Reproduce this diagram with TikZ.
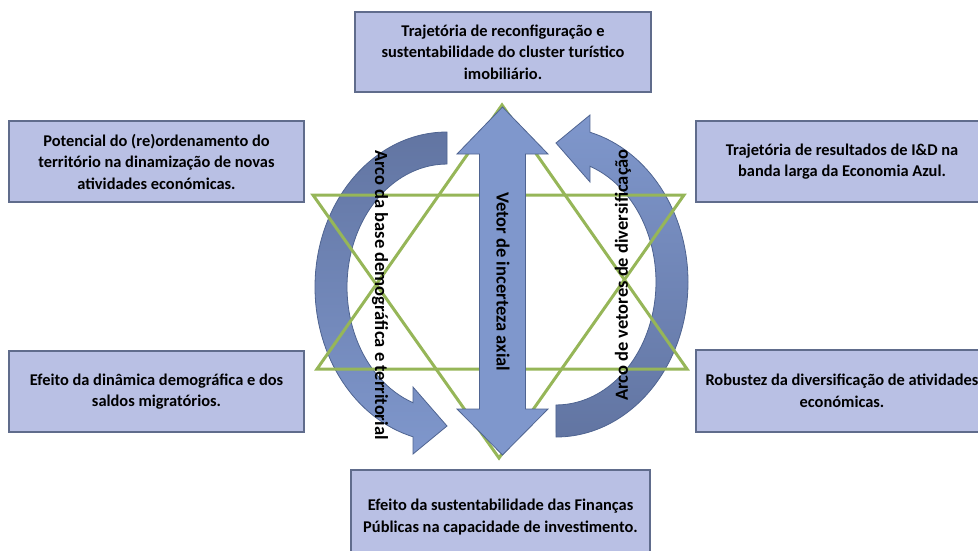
\documentclass[tikz,border=0pt]{standalone}
\usepackage{fontspec}
\setmainfont{Carlito}
\usepackage{tikz}
\definecolor{boxfill}{RGB}{185,192,228}
\definecolor{boxline}{RGB}{96,108,140}
\definecolor{arrowfill}{RGB}{127,151,204}
\definecolor{arrowline}{RGB}{79,100,145}
\definecolor{arcdark}{RGB}{98,117,162}
\definecolor{starline}{RGB}{150,182,88}

\begin{document}
\begin{tikzpicture}[x=1pt, y=-1pt,
    factor/.style={draw=boxline, line width=1.3pt, fill=boxfill, align=center,
        font=\fontsize{16.4}{21.5}\selectfont\bfseries, inner sep=0pt},
    vlabel/.style={font=\fontsize{18.5}{20}\selectfont\bfseries, inner sep=0pt},
    star line/.style={draw=starline, line width=3pt, line join=miter},
    arc arrow/.style={draw=arrowline, line width=0.8pt}]

    \useasboundingbox (0,0) rectangle (978,550);

    % factor boxes
    \foreach \n/\x/\y/\w/\h/\t in {
        top/503/52/296/80/{Trajetória de reconfiguração e\\sustentabilidade do cluster turístico\\imobiliário.},
        lefttop/156.5/161.5/295/81/{Potencial do (re)ordenamento do\\território na dinamização de novas\\atividades económicas.},
        righttop/842/161.5/292/81/{Trajetória de resultados de I\&D na\\banda larga da Economia Azul.},
        leftbottom/156.5/391.5/295/81/{Efeito da dinâmica demográfica e dos\\saldos migratórios.},
        rightbottom/842/391/292/82/{Robustez da diversificação de atividades\\económicas.},
        bottom/500.5/517/299/94/{Efeito da sustentabilidade das Finanças\\Públicas na capacidade de investimento.}}
        \node [factor, minimum width=\w pt, minimum height=\h pt] (box-\n) at (\x,\y) {\t};

    % arc arrows
    \path [arc arrow, top color=arcdark, bottom color=arrowfill]
        (447,132) arc[start angle=270, end angle=104.9, x radius=132, y radius=155]
        -- (413,454) -- (447,426) -- (413,387) -- (413,402.7)
        arc[start angle=109.9, end angle=270, x radius=100, y radius=123] -- cycle;
    \path [arc arrow, top color=arrowfill, bottom color=arcdark]
        (556,437) arc[start angle=90, end angle=-75.1, x radius=132, y radius=155]
        -- (590,115) -- (556,143) -- (590,182) -- (590,166.3)
        arc[start angle=-70.1, end angle=90, x radius=100, y radius=123] -- cycle;

    % star
    \draw [star line] (502,105) -- (687,369) -- (317,369) -- cycle;
    \draw [star line] (313,195) -- (684,195) -- (499,458) -- cycle;

    % axial vector
    \draw [arc arrow, fill=arrowfill]
        (502.5,107) -- (548,154) -- (525.5,154) -- (525.5,409) -- (548,409)
        -- (502.5,455) -- (457,409) -- (479.5,409) -- (479.5,154) -- (457,154) -- cycle;

    % labels
    \node [vlabel, rotate=-90] (lbl-axis) at (503,282) {Vetor de incerteza axial};
    \node [vlabel, rotate=-90] (lbl-left) at (380,295) {Arco da base demográfica e territorial};
    \node [vlabel, rotate=90] (lbl-right) at (623,275) {Arco de vetores de diversificação};

\end{tikzpicture}
\end{document}
